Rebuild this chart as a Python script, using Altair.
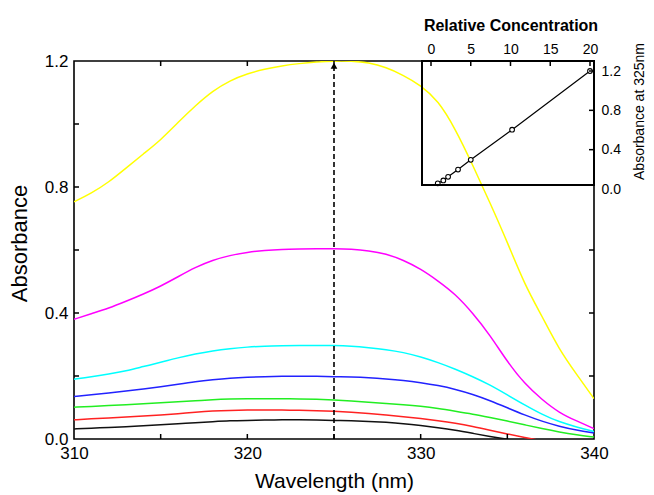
import altair as alt
import pandas as pd

# ---------------- data ----------------
wavelength = list(range(310, 341))

series_names = ["20", "10", "5", "3.3", "2", "1.5", "1"]
series_colors = ["#ffff00", "#ff00ff", "#00ffff", "#2222ff", "#22ee22", "#ff2222", "#111111"]

yellow = [0.753, 0.78, 0.815, 0.86, 0.905, 0.949, 1.005, 1.058, 1.105, 1.138, 1.16,
          1.174, 1.185, 1.192, 1.197, 1.2, 1.2, 1.195, 1.18, 1.155, 1.123,
          1.075, 0.985, 0.87, 0.75, 0.625, 0.49, 0.39, 0.283, 0.205, 0.128]
magenta = [0.38, 0.398, 0.415, 0.437, 0.46, 0.485, 0.515, 0.545, 0.568, 0.583, 0.593,
           0.599, 0.602, 0.603, 0.604, 0.604, 0.603, 0.598, 0.588, 0.568, 0.54,
           0.502, 0.46, 0.40, 0.33, 0.245, 0.175, 0.125, 0.083, 0.057, 0.033]
cyan = [0.19, 0.197, 0.206, 0.216, 0.23, 0.243, 0.258, 0.27, 0.28, 0.287, 0.292,
        0.295, 0.296, 0.297, 0.297, 0.297, 0.295, 0.29, 0.284, 0.275, 0.261,
        0.243, 0.222, 0.198, 0.172, 0.14, 0.108, 0.078, 0.054, 0.038, 0.024]
blue = [0.135, 0.14, 0.146, 0.152, 0.159, 0.166, 0.174, 0.182, 0.188, 0.193, 0.196,
        0.198, 0.199, 0.199, 0.199, 0.198, 0.197, 0.195, 0.191, 0.186, 0.179,
        0.17, 0.158, 0.142, 0.122, 0.099, 0.076, 0.056, 0.04, 0.028, 0.019]
green = [0.101, 0.103, 0.106, 0.109, 0.112, 0.115, 0.118, 0.121, 0.125, 0.127, 0.128,
         0.128, 0.128, 0.127, 0.126, 0.124, 0.121, 0.117, 0.113, 0.109, 0.104,
         0.097, 0.088, 0.079, 0.068, 0.057, 0.045, 0.033, 0.022, 0.013, 0.006]
red = [0.061, 0.064, 0.067, 0.07, 0.073, 0.076, 0.08, 0.085, 0.089, 0.091, 0.092,
       0.092, 0.092, 0.091, 0.09, 0.088, 0.085, 0.081, 0.076, 0.071, 0.065,
       0.058, 0.05, 0.04, 0.028, 0.016, 0.005, -0.006, -0.016, -0.025, -0.033]
black = [0.032, 0.034, 0.037, 0.039, 0.042, 0.045, 0.048, 0.052, 0.055, 0.058, 0.059,
         0.06, 0.061, 0.061, 0.06, 0.059, 0.058, 0.056, 0.053, 0.049, 0.043,
         0.036, 0.028, 0.018, 0.008, -0.001, -0.01, -0.019, -0.028, -0.036, -0.044]

# inset: relative concentration vs absorbance at 325 nm
rel_conc = [0.85, 1.55, 2.15, 3.4, 5.0, 10.2, 20.0]
abs_325 = [0.058, 0.087, 0.124, 0.198, 0.297, 0.603, 1.2]

marker_wavelength = [325]

x_major = [310, 320, 330, 340]
x_ticks_bottom = [315, 320, 325, 330, 335]
x_ticks_top = [315, 320, 325]
y_major = [0.0, 0.4, 0.8, 1.2]
y_ticks_left = [0.2, 0.4, 0.6, 0.8, 1.0]
y_ticks_right = [0.2, 0.4, 0.6]
inset_x_major = [0, 5, 10, 15, 20]
inset_y_major = [0.0, 0.4, 0.8, 1.2]
inset_y_ticks = [0.4, 0.8, 1.2]

# ---------------- layout ----------------
W, H = 520, 378
FONT = "Liberation Sans"

all_series = [yellow, magenta, cyan, blue, green, red, black]
rows = []
for name, vals in zip(series_names, all_series):
    for wl, v in zip(wavelength, vals):
        rows.append({"x": wl, "y": v, "series": name})
df = pd.DataFrame(rows)

xs = alt.Scale(domain=[310, 340], nice=False, zero=False)
ys = alt.Scale(domain=[0, 1.2], nice=False, zero=False)
x_axis = alt.Axis(values=x_major, title="Wavelength (nm)", labelFontSize=17, labelFlush=False,
                  titleFontSize=21, labelPadding=6, titlePadding=9, titleFontWeight="normal")
y_axis = alt.Axis(values=y_major, format=".1f", title="Absorbance", labelFontSize=17,
                  labelFlush=False, titleFontSize=22, labelPadding=6, titlePadding=13,
                  titleFontWeight="normal", titleY=182)
X = lambda: alt.X("x:Q", scale=xs, axis=x_axis)
Y = lambda: alt.Y("y:Q", scale=ys, axis=y_axis)

lines = alt.Chart(df).mark_line(clip=True, strokeWidth=1.5, interpolate="basis").encode(
    x=X(), y=Y(),
    color=alt.Color("series:N", scale=alt.Scale(domain=series_names, range=series_colors),
                    legend=None),
)

arrow_df = pd.DataFrame({"x": marker_wavelength, "y": [0.0], "y1": [1.185]})
arrow_line = alt.Chart(arrow_df).mark_rule(color="black", strokeWidth=1.6, strokeDash=[5, 3]).encode(
    x=X(), y=Y(), y2="y1:Q",
)
head_df = pd.DataFrame({"x": marker_wavelength, "y": [1.185]})
arrow_head = alt.Chart(head_df).mark_point(shape="triangle-up", filled=True, color="black",
                                           size=45, opacity=1).encode(x=X(), y=Y())

tick_style = dict(color="black", strokeWidth=1.5)
t_bottom = alt.Chart(pd.DataFrame({"x": x_ticks_bottom})).mark_rule(**tick_style).encode(
    x=X(), y=alt.value(H), y2=alt.value(H - 5))
t_top = alt.Chart(pd.DataFrame({"x": x_ticks_top})).mark_rule(**tick_style).encode(
    x=X(), y=alt.value(0), y2=alt.value(5))
t_left = alt.Chart(pd.DataFrame({"y": y_ticks_left})).mark_rule(**tick_style).encode(
    y=Y(), x=alt.value(0), x2=alt.value(5))
t_right = alt.Chart(pd.DataFrame({"y": y_ticks_right})).mark_rule(**tick_style).encode(
    y=Y(), x=alt.value(W), x2=alt.value(W - 5))

main = alt.layer(lines, arrow_line, arrow_head, t_bottom, t_top, t_left, t_right)

# ---------------- inset ----------------
ixs = alt.Scale(domain=[0, 20], range=[357, 516], nice=False, zero=False)
iys = alt.Scale(domain=[0, 1.2], range=[128, 10], nice=False, zero=False)
ix_axis = alt.Axis(orient="top", values=inset_x_major, title="Relative Concentration",
                   labelFontSize=14, labelFlush=False, titleFontSize=16, titleFontWeight="bold",
                   labelPadding=5, titlePadding=9)
iy_axis = alt.Axis(orient="right", values=inset_y_major, format=".1f", labelFlush=False,
                   title="Absorbance at 325nm", labelFontSize=14, titleFontSize=14,
                   titleFontWeight="normal", labelPadding=7, titlePadding=12,
                   titleAngle=270, titleBaseline="top", titleY=50)
IX = lambda: alt.X("c:Q", scale=ixs, axis=ix_axis)
IY = lambda: alt.Y("a:Q", scale=iys, axis=iy_axis)

idf = pd.DataFrame({"c": rel_conc, "a": abs_325})

inset_line = alt.Chart(idf).mark_line(color="black", strokeWidth=1.2).encode(x=IX(), y=IY())
inset_pts = alt.Chart(idf).mark_point(shape="circle", filled=True, fill="white", stroke="black",
                                      strokeWidth=1.1, size=22, opacity=1).encode(x=IX(), y=IY())
inset_frame = alt.Chart(idf).mark_rect(filled=False, stroke="black", strokeWidth=1.5).encode(
    x=alt.value(348), x2=alt.value(W), y=alt.value(0), y2=alt.value(124))
it_top = alt.Chart(pd.DataFrame({"c": inset_x_major})).mark_rule(**tick_style).encode(
    x=IX(), y=alt.value(0), y2=alt.value(5))
it_right = alt.Chart(pd.DataFrame({"a": inset_y_ticks})).mark_rule(**tick_style).encode(
    y=IY(), x=alt.value(W), x2=alt.value(W - 5))

inset = alt.layer(inset_line, inset_pts, inset_frame, it_top, it_right)

chart = alt.layer(main, inset).resolve_scale(
    x="independent", y="independent"
).properties(
    width=W, height=H,
    padding={"left": 74, "top": 61, "right": 60, "bottom": 56},
    autosize=alt.AutoSizeParams(type="none"),
).configure_view(
    stroke="black", strokeWidth=1.6
).configure_axis(
    grid=False, ticks=False, domain=False,
    labelFont=FONT, titleFont=FONT, labelColor="black", titleColor="black",
)

chart.save("out.html", embed_options={"renderer": "svg", "actions": False})
